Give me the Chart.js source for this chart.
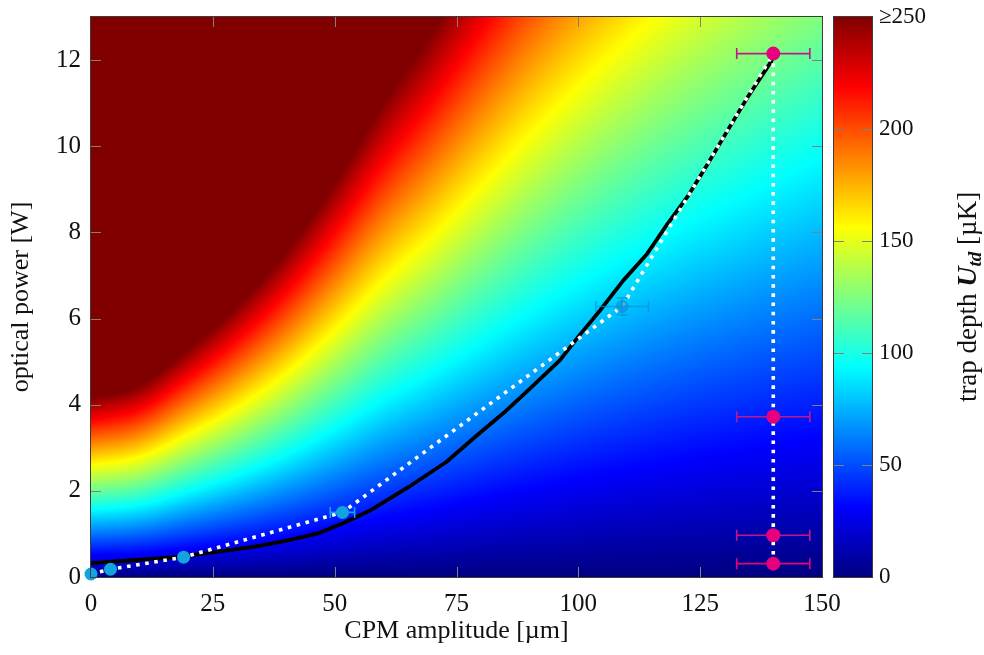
<!DOCTYPE html>
<html><head><meta charset="utf-8">
<script src="https://cdn.jsdelivr.net/npm/chart.js@4.4.1/dist/chart.umd.min.js"></script>
<style>html,body{margin:0;padding:0;background:#fff;}#wrap{width:984px;height:655px;}</style>
</head><body><div id="wrap"><canvas id="c" width="984" height="655"></canvas></div>
<script>
// ---------------- data ----------------
// background: optical power [W] at which the trap depth reaches 250 µK, per CPM amplitude
const heatAmplitude   = [0, 10, 20, 30, 40, 50, 60, 70, 80, 90, 100, 110, 120, 130, 140, 150];
const heatPowerAt250  = [4.15, 4.45, 5.3, 6.3, 7.55, 9.15, 11.0, 12.65, 14.5, 16.4, 18.2, 19.9, 21.5, 23.0, 24.5, 26.0];
const heatMaxDepth    = 250;

// black curve
const blackAmplitude = [0, 10, 18.6, 25, 33.3, 40, 46.8, 51.6, 57.4, 65.2, 72.9, 78.8, 84.6, 90.4, 96.2, 100.3, 104.4, 109.2, 114.1, 118.3, 122.4, 126.6, 130.7, 134.8, 139.6, 140];
const blackPower     = [0.32, 0.40, 0.47, 0.57, 0.70, 0.84, 1.02, 1.24, 1.55, 2.09, 2.67, 3.25, 3.80, 4.41, 5.03, 5.62, 6.18, 6.88, 7.50, 8.20, 8.83, 9.60, 10.38, 11.15, 11.97, 12.12];

// white dotted path
const dottedAmplitude = [0, 4, 19, 51.6, 109, 140, 140];
const dottedPower     = [0.07, 0.18, 0.46, 1.5, 6.28, 12.15, 0.31];

// cyan measurements
const cyanAmplitude    = [0, 4, 19, 51.6, 109];
const cyanPower        = [0.07, 0.18, 0.46, 1.5, 6.28];
const cyanAmplitudeErr = [0, 0, 0, 2.5, 5.4];
const cyanPowerErr     = [0, 0, 0, 0, 0.2];

// magenta measurements
const magentaAmplitude    = [140, 140, 140, 140];
const magentaPower        = [12.15, 3.72, 0.97, 0.31];
const magentaAmplitudeErr = [7.5, 7.5, 7.5, 7.5];

// ticks
const xTickValues  = [0, 25, 50, 75, 100, 125, 150];
const yTickValues  = [0, 2, 4, 6, 8, 10, 12];
const cbTickValues = [0, 50, 100, 150, 200, 250];
const cbTickLabels = ['0', '50', '100', '150', '200', '≥250'];

// ---------------- helpers ----------------
const SERIF = '"Liberation Serif", "DejaVu Serif", serif';
const CYAN = 'rgb(17,164,222)';
const CYAN_FADED = 'rgba(10,145,215,0.7)';
const MAGENTA = 'rgb(230,0,126)';
const MAG_BAR = 'rgb(190,25,140)';

function jet(v) {
  const c = x => Math.max(0, Math.min(1, x));
  return [c(Math.min(4 * v - 1.5, -4 * v + 4.5)), c(Math.min(4 * v - 0.5, -4 * v + 3.5)), c(Math.min(4 * v + 0.5, -4 * v + 2.5))];
}
function smoothAt(xs, ys, x) {
  const n = xs.length;
  if (x <= xs[0]) return ys[0];
  if (x >= xs[n - 1]) return ys[n - 1];
  let i = 0;
  while (i < n - 2 && x > xs[i + 1]) i++;
  const h = xs[i + 1] - xs[i];
  const t = (x - xs[i]) / h;
  const slope = k => {
    const a = Math.max(0, k - 1), b = Math.min(n - 1, k + 1);
    return (ys[b] - ys[a]) / (xs[b] - xs[a]);
  };
  const m0 = slope(i) * h, m1 = slope(i + 1) * h;
  const t2 = t * t, t3 = t2 * t;
  return (2 * t3 - 3 * t2 + 1) * ys[i] + (t3 - 2 * t2 + t) * m0 + (-2 * t3 + 3 * t2) * ys[i + 1] + (t3 - t2) * m1;
}
const pts = (xs, ys) => xs.map((x, i) => ({ x: x, y: ys[i] }));
const noPad = s => { s.paddingTop = 0; s.paddingBottom = 0; };

const errorBars = {
  2: { xe: cyanAmplitudeErr, ye: cyanPowerErr, color: [CYAN, CYAN, CYAN, CYAN, CYAN_FADED] },
  3: { xe: magentaAmplitudeErr, ye: null, color: [MAG_BAR, MAG_BAR, MAG_BAR, MAGENTA] }
};

const plotPlugin = {
  id: 'plotPlugin',
  beforeDatasetsDraw(chart) {
    const { ctx, chartArea: ca, scales } = chart;
    const xs = scales.x, ys = scales.y;
    const w = Math.round(ca.right - ca.left), h = Math.round(ca.bottom - ca.top);
    const off = document.createElement('canvas');
    off.width = w; off.height = h;
    const octx = off.getContext('2d');
    const img = octx.createImageData(w, h);
    for (let i = 0; i < w; i++) {
      const a = xs.getValueForPixel(ca.left + i + 0.5);
      const p250 = smoothAt(heatAmplitude, heatPowerAt250, a);
      for (let j = 0; j < h; j++) {
        const P = ys.getValueForPixel(ca.top + j + 0.5);
        const v = Math.max(0, Math.min(1, (heatMaxDepth * P / p250) / heatMaxDepth));
        const c = jet(v);
        const k = (j * w + i) * 4;
        img.data[k] = c[0] * 255; img.data[k + 1] = c[1] * 255; img.data[k + 2] = c[2] * 255; img.data[k + 3] = 255;
      }
    }
    octx.putImageData(img, 0, 0);
    ctx.save();
    ctx.drawImage(off, ca.left, ca.top);
    // inner ticks
    ctx.strokeStyle = 'rgb(128,128,128)';
    ctx.lineWidth = 1;
    ctx.beginPath();
    xTickValues.forEach(v => {
      const px = Math.round(xs.getPixelForValue(v)) + 0.5;
      if (px < ca.left + 2 || px > ca.right - 2) return;
      ctx.moveTo(px, ca.bottom); ctx.lineTo(px, ca.bottom - 10);
      ctx.moveTo(px, ca.top); ctx.lineTo(px, ca.top + 10);
    });
    yTickValues.forEach(v => {
      const py = Math.round(ys.getPixelForValue(v)) + 0.5;
      if (py < ca.top + 2 || py > ca.bottom - 2) return;
      ctx.moveTo(ca.left, py); ctx.lineTo(ca.left + 10, py);
      ctx.moveTo(ca.right, py); ctx.lineTo(ca.right - 10, py);
    });
    ctx.stroke();
    ctx.restore();
  },
  beforeDatasetDraw(chart, args) {
    const eb = errorBars[args.index];
    if (!eb) return;
    const { ctx, scales } = chart;
    const data = chart.data.datasets[args.index].data;
    ctx.save();
    ctx.lineWidth = 1.6;
    data.forEach((d, i) => {
      ctx.strokeStyle = eb.color[i];
      const px = scales.x.getPixelForValue(d.x), py = scales.y.getPixelForValue(d.y);
      const xe = eb.xe ? eb.xe[i] : 0, ye = eb.ye ? eb.ye[i] : 0;
      ctx.beginPath();
      if (xe > 0) {
        const l = scales.x.getPixelForValue(d.x - xe), r = scales.x.getPixelForValue(d.x + xe);
        ctx.moveTo(l, py); ctx.lineTo(r, py);
        ctx.moveTo(l, py - 5.5); ctx.lineTo(l, py + 5.5);
        ctx.moveTo(r, py - 5.5); ctx.lineTo(r, py + 5.5);
      }
      if (ye > 0) {
        const t = scales.y.getPixelForValue(d.y + ye), b = scales.y.getPixelForValue(d.y - ye);
        ctx.moveTo(px, t); ctx.lineTo(px, b);
        ctx.moveTo(px - 5.5, t); ctx.lineTo(px + 5.5, t);
        ctx.moveTo(px - 5.5, b); ctx.lineTo(px + 5.5, b);
      }
      ctx.stroke();
    });
    ctx.restore();
  },
  afterDraw(chart) {
    const { ctx, chartArea: ca, scales } = chart;
    const cb = scales.cb;
    ctx.save();
    // frame of plot
    ctx.strokeStyle = 'rgb(60,60,60)';
    ctx.lineWidth = 1;
    ctx.strokeRect(ca.left - 0.5, ca.top - 0.5, ca.right - ca.left + 1, ca.bottom - ca.top + 1);
    // colour bar
    const bx = ca.right + 12, bw = 38;
    const top = cb.getPixelForValue(250), bot = cb.getPixelForValue(0);
    const g = ctx.createLinearGradient(0, bot, 0, top);
    [[0, 'rgb(0,0,128)'], [1 / 8, 'rgb(0,0,255)'], [3 / 8, 'rgb(0,255,255)'], [5 / 8, 'rgb(255,255,0)'], [7 / 8, 'rgb(255,0,0)'], [1, 'rgb(128,0,0)']]
      .forEach(s => g.addColorStop(s[0], s[1]));
    ctx.fillStyle = g;
    ctx.fillRect(bx, top, bw, bot - top);
    ctx.strokeStyle = 'rgb(128,128,128)';
    ctx.beginPath();
    cbTickValues.forEach(v => {
      const py = Math.round(cb.getPixelForValue(v)) + 0.5;
      if (py < top + 2 || py > bot - 2) return;
      ctx.moveTo(bx, py); ctx.lineTo(bx + 10, py);
      ctx.moveTo(bx + bw, py); ctx.lineTo(bx + bw - 10, py);
    });
    ctx.stroke();
    ctx.strokeStyle = 'rgb(60,60,60)';
    ctx.strokeRect(bx - 0.5, top - 0.5, bw + 1, bot - top + 1);
    // colour bar title
    ctx.translate(968, (top + bot) / 2);
    ctx.rotate(-Math.PI / 2);
    ctx.fillStyle = '#111';
    ctx.textBaseline = 'alphabetic';
    const fN = '27px ' + SERIF, fB = 'italic bold 28px ' + SERIF, fS = 'italic bold 19px ' + SERIF;
    const parts = [['trap depth ', fN, 0], ['U', fB, 0], ['td', fS, 5], [' [µK]', fN, 0]];
    let total = 0;
    parts.forEach(p => { ctx.font = p[1]; p.push(ctx.measureText(p[0]).width); total += p[3]; });
    let xx = -total / 2;
    parts.forEach(p => { ctx.font = p[1]; ctx.fillText(p[0], xx, 8 + p[2]); xx += p[3]; });
    ctx.restore();
  }
};

new Chart(document.getElementById('c'), {
  type: 'scatter',
  data: {
    datasets: [
      { label: 'black', data: pts(blackAmplitude, blackPower), showLine: true, borderColor: '#000', borderWidth: 3.8,
        pointRadius: 0, tension: 0, order: 3, borderJoinStyle: 'round' },
      { label: 'dotted', data: pts(dottedAmplitude, dottedPower), showLine: true, borderColor: '#fff', borderWidth: 3.6,
        borderDash: [3.6, 5.6], borderCapStyle: 'butt', pointRadius: 0, tension: 0, order: 2 },
      { label: 'cyan', data: pts(cyanAmplitude, cyanPower), showLine: false, pointRadius: 6.5, borderWidth: 0,
        backgroundColor: [CYAN, CYAN, CYAN, CYAN, CYAN_FADED], borderColor: 'rgba(0,0,0,0)', order: 1 },
      { label: 'magenta', data: pts(magentaAmplitude, magentaPower), showLine: false, pointRadius: 7, borderWidth: 0,
        backgroundColor: MAGENTA, borderColor: 'rgba(0,0,0,0)', order: 0 }
    ]
  },
  options: {
    responsive: false,
    animation: false,
    events: [],
    layout: { padding: { top: 17, left: 0, right: 0, bottom: 0 } },
    plugins: { legend: { display: false }, tooltip: { enabled: false } },
    clip: false,
    scales: {
      x: {
        type: 'linear', position: 'bottom', min: 0, max: 150,
        afterBuildTicks: s => { s.ticks = xTickValues.map(v => ({ value: v })); },
        afterFit: s => { s.height = 78; },
        grid: { display: false, drawTicks: false }, border: { display: false },
        ticks: { font: { family: SERIF, size: 25 }, color: '#111', padding: 12, maxRotation: 0, autoSkip: false },
        title: { display: true, text: 'CPM amplitude [µm]', font: { family: SERIF, size: 26 }, color: '#111', padding: { top: 0, bottom: 8 } }
      },
      y: {
        type: 'linear', position: 'left', min: 0, max: 13,
        afterBuildTicks: s => { s.ticks = yTickValues.map(v => ({ value: v })); },
        afterFit: s => { s.width = 91; noPad(s); },
        grid: { display: false, drawTicks: false }, border: { display: false },
        ticks: { font: { family: SERIF, size: 25 }, color: '#111', padding: 10, autoSkip: false },
        title: { display: true, text: 'optical power [W]', font: { family: SERIF, size: 26 }, color: '#111', padding: { top: 6, bottom: 0 } }
      },
      cb: {
        type: 'linear', axis: 'y', position: 'right', min: 0, max: 250,
        afterBuildTicks: s => { s.ticks = cbTickValues.map(v => ({ value: v })); },
        afterFit: s => { s.width = 162; noPad(s); },
        grid: { display: false, drawTicks: false }, border: { display: false },
        ticks: { font: { family: SERIF, size: 23 }, color: '#111', padding: 57, autoSkip: false,
          callback: (v, i) => cbTickLabels[cbTickValues.indexOf(v)] }
      }
    }
  },
  plugins: [plotPlugin]
});
</script></body></html>
